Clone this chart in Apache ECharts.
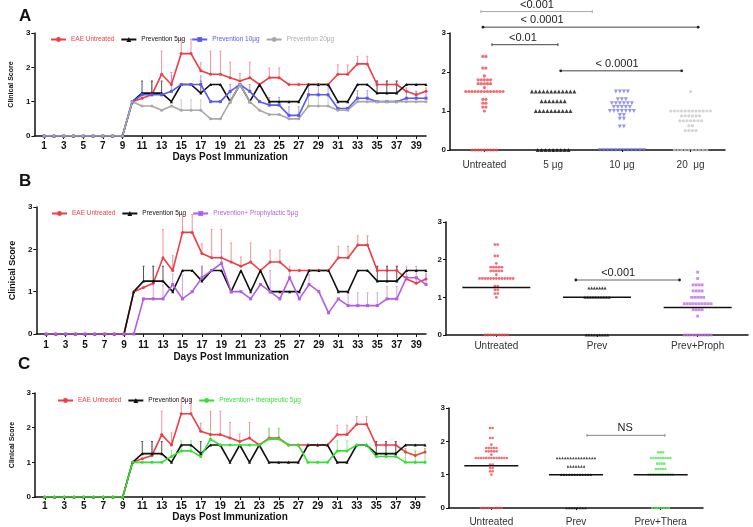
<!DOCTYPE html>
<html><head><meta charset="utf-8">
<script src="https://cdn.jsdelivr.net/npm/echarts@6/dist/echarts.min.js"></script>
<style>html,body{margin:0;padding:0;background:#fff}#c{width:753px;height:527px}</style>
</head><body><div id="c"></div>
<script>
// ---------------- DATA ----------------
const days = ['0','1','2','3','4','5','6','7','8','9','10','11','12','13','14','15','16','17','18','19','20',
  '21','22','23','24','25','26','27','28','29','30','31','32','33','34','35','36','37','38','39','40'];

// mean clinical score, days 1..40
const eaeUntreated = [0,0,0,0,0,0,0,0,0,1.0,1.1,1.2,1.8,1.5,2.4,2.4,1.9,1.8,1.8,1.7,1.6,1.7,1.5,1.7,1.7,1.5,1.5,1.5,1.5,1.5,1.8,1.8,2.1,2.1,1.5,1.5,1.5,1.3,1.2,1.3];
const eaeUntreatedErr = [0,0,0,0,0,0,0,0,0,0,0,0.4,0.67,0.35,0.42,0.42,0.23,0.67,0.67,0.45,0.22,0.45,0,0.28,0.28,0,0,0,0,0,0.27,0.27,0.22,0.22,0.1,0.1,0.1,0.1,0.1,0.1];
const prevention5 = [0,0,0,0,0,0,0,0,0,1.0,1.25,1.25,1.25,1.0,1.5,1.5,1.25,1.5,1.5,1.0,1.5,1.0,1.5,1.0,1.0,1.0,1.0,1.5,1.5,1.5,1.0,1.0,1.5,1.5,1.25,1.25,1.25,1.5,1.5,1.5];
const prevention5Err = [0,0,0,0,0,0,0,0,0,0,0.35,0.35,0.35,0,0,0,0.35,0,0,0,0,0,0,0,0,0,0,0,0,0,0,0,0,0,0.35,0.35,0.35,0,0,0];
const prevention10 = [0,0,0,0,0,0,0,0,0,1.0,1.2,1.2,1.2,1.3,1.5,1.5,1.5,1.0,1.0,1.3,1.5,1.3,1.0,0.9,0.9,0.6,0.6,1.2,1.2,1.2,0.8,0.8,1.1,1.1,1.0,1.0,1.0,1.1,1.1,1.1];
const prevention10Err = [0,0,0,0,0,0,0,0,0,0,0.25,0,0,0.45,0,0,0.25,0,0,0.2,0,0.2,0,0.22,0.22,0.25,0.25,0.3,0.3,0.3,0,0,0.22,0.22,0,0,0,0.2,0.2,0.2];
const prevention20 = [0,0,0,0,0,0,0,0,0,1.0,0.875,0.875,0.75,0.875,0.75,0.75,0.75,0.5,0.5,1.0,1.5,1.0,0.75,0.625,0.625,0.5,0.5,0.875,0.875,0.875,0.75,0.75,1.0,1.0,1.0,1.0,1.0,1.0,1.0,1.0];
const prevention20Err = [0,0,0,0,0,0,0,0,0,0,0,0,0,0,0.3,0.3,0.3,0,0,0.3,0,0,0,0,0,0,0,0.3,0.3,0.3,0,0,0,0,0,0,0,0,0,0];
const prophylactic5 = [0,0,0,0,0,0,0,0,0,0,0.83,0.83,0.83,1.17,0.83,1.0,1.33,1.5,1.67,1.0,1.0,0.83,1.17,1.0,0.83,1.33,0.83,1.17,1.0,0.5,0.83,0.67,0.67,0.67,0.67,0.83,0.83,1.33,1.33,1.17];
const prophylactic5Err = [0,0,0,0,0,0,0,0,0,0,0,0.35,0.33,0.25,0.56,0,0.27,0,0.28,0,0,0,0,0.5,0,0.27,0,0.23,0,0,0,0.3,0.3,0.3,0.3,0.29,0.29,0.27,0.27,0.27];
const therapeutic5 = [0,0,0,0,0,0,0,0,0,1.0,1.0,1.0,1.0,1.17,1.33,1.33,1.17,1.67,1.5,1.5,1.5,1.5,1.5,1.67,1.67,1.5,1.5,1.0,1.0,1.0,1.33,1.33,1.5,1.5,1.17,1.17,1.17,1.0,1.0,1.0];
const therapeutic5Err = [0,0,0,0,0,0,0,0,0,0,0,0,0,0.18,0.29,0.29,0,0.28,0,0,0,0,0,0.3,0.3,0,0,0,0,0,0.29,0.29,0,0,0,0,0,0.35,0.35,0.35];

// individual scores (dot plots)
const groupsA = ['Untreated','5 μg','10 μg','20  μg'];
const groupsB = ['Untreated','Prev','Prev+Proph'];
const groupsC = ['Untreated','Prev','Prev+Thera'];
const scoresUntreated = [2.4,2.4,2.1,2.1,1.9,1.8,1.8,1.8,1.8,1.8,1.7,1.7,1.7,1.7,1.7,1.6,
  1.5,1.5,1.5,1.5,1.5,1.5,1.5,1.5,1.5,1.5,1.5,1.5,1.5,1.3,1.3,1.2,1.2,1.1,1.1,1.0,0,0,0,0,0,0,0,0,0];
const scores5A = [1.5,1.5,1.5,1.5,1.5,1.5,1.5,1.5,1.5,1.5,1.5,1.5,1.25,1.25,1.25,1.25,1.25,1.25,1.25,
  1.0,1.0,1.0,1.0,1.0,1.0,1.0,1.0,1.0,1.0,0,0,0,0,0,0,0,0,0];
const scores10A = [1.5,1.5,1.5,1.5,1.3,1.3,1.3,1.2,1.2,1.2,1.2,1.2,1.2,1.1,1.1,1.1,1.1,1.1,
  1.0,1.0,1.0,1.0,1.0,1.0,1.0,0.9,0.9,0.8,0.8,0.6,0.6,0,0,0,0,0,0,0,0,0,0,0,0];
const scores20A = [1.5,1.0,1.0,1.0,1.0,1.0,1.0,1.0,1.0,1.0,1.0,1.0,1.0,0.875,0.875,0.875,0.875,0.875,0.875,
  0.75,0.75,0.75,0.75,0.75,0.75,0.75,0.625,0.625,0.5,0.5,0.5,0.5,0,0,0,0,0,0,0,0,0,0];
const scoresPrevB = [1.25,1.25,1.25,1.25,1.25,1.25,1.25,1.0,1.0,1.0,1.0,1.0,1.0,1.0,1.0,1.0,1.0,0,0,0,0,0,0,0,0,0];
const scoresProphB = [1.67,1.5,1.33,1.33,1.33,1.33,1.17,1.17,1.17,1.17,1.0,1.0,1.0,1.0,1.0,
  0.83,0.83,0.83,0.83,0.83,0.83,0.83,0.83,0.83,0.83,0.67,0.67,0.67,0.67,0.5,0,0,0,0,0,0,0,0,0,0];
const scoresPrevC = [1.5,1.5,1.5,1.5,1.5,1.5,1.5,1.5,1.5,1.5,1.5,1.5,1.5,1.5,1.5,1.25,1.25,1.25,1.25,1.25,1.25,1.25,
  1.0,1.0,1.0,1.0,1.0,1.0,1.0,1.0,1.0,1.0,1.0,1.0,0,0,0,0,0,0,0,0];
const scoresTheraC = [1.67,1.67,1.67,1.5,1.5,1.5,1.5,1.5,1.5,1.5,1.5,1.5,1.33,1.33,1.33,1.33,1.17,1.17,1.17,1.17,1.17,
  1.0,1.0,1.0,1.0,1.0,1.0,1.0,1.0,1.0,1.0,1.0,0,0,0,0,0,0,0,0];
const meanB = [1.26, 1.0, 0.73];
const meanC = [1.27, 1.0, 1.0];

// significance brackets (group-axis units, score level)
const sigA_text = ['<0.001','< 0.0001','<0.01','< 0.0001'];
const sigA_from = [0.45, 0.48, 0.61, 1.61];
const sigA_to = [2.07, 3.61, 1.57, 3.37];
const sigA_level = [3.55, 3.15, 2.7, 2.03];
const sigA_textAt = [1.265, 1.34, 1.06, 2.43];
const sigB_text = ['<0.001'];
const sigB_from = [1.29];
const sigB_to = [2.32];
const sigB_level = [1.46];
const sigB_textAt = [1.71];
const sigC_text = ['NS'];
const sigC_from = [1.63];
const sigC_to = [2.55];
const sigC_level = [2.18];
const sigC_textAt = [2.08];

// ---------------- STYLE / LAYOUT ----------------
const FONT = '"Liberation Sans", Arial, Helvetica, sans-serif';
const C = {
  red:'#ee3d45', redErr:'#f29498', black:'#111111', blackErr:'#555555',
  blue:'#5a5af0', blueErr:'#a0a0f5', grey:'#a8a8a8', greyErr:'#c8c8c8',
  purple:'#b35ee0', purpleErr:'#d3a2ef', green:'#35e035', greenErr:'#86ef86'
};
const lineGrids = [
  {left:30, top:33, width:396, height:103},
  {left:28, top:207, width:398, height:127},
  {left:35, top:393, width:390, height:104}];
const dotGrids = [
  {left:450, top:33, width:275, height:117},
  {left:446, top:222, width:302, height:113},
  {left:449, top:408, width:254, height:100}];

const chart = echarts.init(document.getElementById('c'));

const xAxes = [], yAxes = [], series = [];
const lineCfg = [
  {labelMargin:5, nameGap:15, yNameGap:15, yNameSize:7},
  {labelMargin:6, nameGap:18, yNameGap:13, yNameSize:9},
  {labelMargin:4, nameGap:14, yNameGap:14, yNameSize:7}];
lineCfg.forEach((cfg, g) => {
  xAxes.push({type:'category', gridIndex:g, data:days, boundaryGap:false,
    axisLine:{lineStyle:{color:'#111', width:1.5}},
    axisTick:{interval:(i)=> i%2===1, length:3, lineStyle:{color:'#111', width:1}},
    axisLabel:{interval:(i)=> i%2===1, fontSize:10, fontWeight:'bold', color:'#111', margin:cfg.labelMargin, fontFamily:FONT},
    name:'Days Post Immunization', nameLocation:'middle', nameGap:cfg.nameGap,
    nameTextStyle:{fontSize:10, fontWeight:'bold', color:'#111', fontFamily:FONT}, splitLine:{show:false}});
  yAxes.push({type:'value', gridIndex:g, min:0, max:3, interval:1,
    axisLine:{show:true, lineStyle:{color:'#111', width:1.5}},
    axisTick:{show:true, length:3, lineStyle:{color:'#111'}},
    axisLabel:{fontSize:8, fontWeight:'bold', color:'#111', margin:4, fontFamily:FONT},
    splitLine:{show:false},
    name:'Clinical Score', nameLocation:'middle', nameGap:cfg.yNameGap, nameRotate:90,
    nameTextStyle:{fontSize:cfg.yNameSize, fontWeight:'bold', color:'#111', fontFamily:FONT}});
});
const dotCfg = [{groups:groupsA, margin:10}, {groups:groupsB, margin:6}, {groups:groupsC, margin:9}];
dotCfg.forEach((cfg, k) => {
  const g = 3 + k;
  xAxes.push({type:'category', gridIndex:g, data:cfg.groups, boundaryGap:true,
    axisLine:{lineStyle:{color:'#111', width:1.5}},
    axisTick:{show:true, alignWithLabel:true, length:2, lineStyle:{color:'#111'}},
    axisLabel:{fontSize:10, color:'#333', margin:cfg.margin, fontFamily:FONT}});
  xAxes.push({type:'value', gridIndex:g, min:0, max:cfg.groups.length, show:false});
  yAxes.push({type:'value', gridIndex:g, min:0, max:3, interval:1,
    axisLine:{show:true, lineStyle:{color:'#111', width:1.5}},
    axisTick:{show:true, length:3, lineStyle:{color:'#111'}},
    axisLabel:{fontSize:8, fontWeight:'bold', color:'#111', margin:4, fontFamily:FONT},
    splitLine:{show:false}});
});

function errSeries(panel, means, errs, color) {
  const data = [];
  means.forEach((m, i) => { if (errs[i] > 0) data.push([i + 1, m, errs[i]]); });
  return {type:'custom', xAxisIndex:panel, yAxisIndex:panel, z:1, silent:true, data,
    renderItem(params, api) {
      const x = api.value(0), m = api.value(1), e = api.value(2);
      const p0 = api.coord([x, m]), p1 = api.coord([x, m + e]);
      return {type:'group', children:[
        {type:'line', shape:{x1:p0[0], y1:p0[1], x2:p1[0], y2:p1[1]}, style:{stroke:color, lineWidth:1}},
        {type:'line', shape:{x1:p1[0]-1, y1:p1[1], x2:p1[0]+1, y2:p1[1]}, style:{stroke:color, lineWidth:1}}]};
    }};
}
function lineSeries(panel, name, vals, color, symbol) {
  return {type:'line', name, xAxisIndex:panel, yAxisIndex:panel, z:3,
    data: vals.map((v, i) => [i + 1, v]),
    symbol, symbolSize:3, showSymbol:true,
    lineStyle:{color, width:1.6}, itemStyle:{color}};
}
const panels = [
  [['EAE Untreated', eaeUntreated, eaeUntreatedErr, C.red, C.redErr, 'circle'],
   ['Prevention 5μg', prevention5, prevention5Err, C.black, C.blackErr, 'triangle'],
   ['Prevention 10μg', prevention10, prevention10Err, C.blue, C.blueErr, 'rect'],
   ['Prevention 20μg', prevention20, prevention20Err, C.grey, C.greyErr, 'circle']],
  [['EAE Untreated', eaeUntreated, eaeUntreatedErr, C.red, C.redErr, 'circle'],
   ['Prevention 5μg', prevention5, prevention5Err, C.black, C.blackErr, 'triangle'],
   ['Prevention+ Prophylactic 5μg', prophylactic5, prophylactic5Err, C.purple, C.purpleErr, 'rect']],
  [['EAE Untreated', eaeUntreated, eaeUntreatedErr, C.red, C.redErr, 'circle'],
   ['Prevention 5μg', prevention5, prevention5Err, C.black, C.blackErr, 'triangle'],
   ['Prevention+ therapeutic 5μg', therapeutic5, therapeutic5Err, C.green, C.greenErr, 'circle']]];
panels.forEach((list, p) => {
  list.forEach(s => series.push(errSeries(p, s[1], s[2], s[4])));
  list.forEach(s => series.push(lineSeries(p, s[0], s[1], s[3], s[5])));
});

// dot plots
function swarm(scores, groupIndex, spacingPx, gridW, nGroups) {
  const unit = spacingPx / (gridW / nGroups);
  const counts = new Map();
  scores.forEach(v => counts.set(v, (counts.get(v) || 0) + 1));
  const pts = [];
  counts.forEach((n, v) => {
    for (let k = 0; k < n; k++) pts.push([groupIndex + 0.5 + (k - (n - 1) / 2) * unit, v]);
  });
  return pts;
}
function dotSeries(k, scores, gi, color, symbol, size, spacing, rotate) {
  const grid = dotGrids[k], n = dotCfg[k].groups.length;
  return {type:'scatter', xAxisIndex:4 + 2*k, yAxisIndex:3 + k, z:3, silent:true,
    data: swarm(scores, gi, spacing, grid.width, n), symbol, symbolSize:size, symbolRotate:rotate || 0,
    itemStyle:{color}};
}
series.push(dotSeries(0, scoresUntreated, 0, '#ef4a50', 'circle', 3.2, 3.1));
series.push(dotSeries(0, scores5A, 1, '#111', 'triangle', 4, 3.85));
series.push(dotSeries(0, scores10A, 2, '#7b7bef', 'triangle', 4, 4.0, 180));
series.push(dotSeries(0, scores20A, 3, '#c9c9c9', 'circle', 3.2, 3.6));
series.push(dotSeries(1, scoresUntreated, 0, '#ef4a50', 'circle', 2.8, 2.8));
series.push(dotSeries(1, scoresPrevB, 1, '#111', 'triangle', 3, 2.7));
series.push(dotSeries(1, scoresProphB, 2, '#c06ee3', 'rect', 2.8, 3.0));
series.push(dotSeries(2, scoresUntreated, 0, '#ef4a50', 'circle', 2.6, 2.6));
series.push(dotSeries(2, scoresPrevC, 1, '#111', 'triangle', 2.6, 2.7));
series.push(dotSeries(2, scoresTheraC, 2, '#55e655', 'circle', 2.6, 2.4));

function meanSeries(k, means, halfPx) {
  return {type:'custom', xAxisIndex:4 + 2*k, yAxisIndex:3 + k, z:4, silent:true,
    data: means.map((m, i) => [i + 0.5, m]),
    renderItem(params, api) {
      const p = api.coord([api.value(0), api.value(1)]);
      return {type:'line', shape:{x1:p[0]-halfPx, y1:p[1], x2:p[0]+halfPx, y2:p[1]}, style:{stroke:'#111', lineWidth:1.5}};
    }};
}
series.push(meanSeries(1, meanB, 34));
series.push(meanSeries(2, meanC, 27));

function sigSeries(k, texts, from, to, level, textAt, ends, colors) {
  return {type:'custom', xAxisIndex:4 + 2*k, yAxisIndex:3 + k, z:5, silent:true, clip:false,
    data: from.map((f, i) => [f, level[i], to[i], textAt[i]]),
    renderItem(params, api) {
      const i = params.dataIndex;
      const a = api.coord([api.value(0), api.value(1)]);
      const b = api.coord([api.value(2), api.value(1)]);
      const t = api.coord([api.value(3), api.value(1)]);
      const col = colors[i];
      const ch = [{type:'line', shape:{x1:a[0], y1:a[1], x2:b[0], y2:b[1]}, style:{stroke:col, lineWidth:1}}];
      [a, b].forEach(p => {
        if (ends[i] === 'dot') ch.push({type:'circle', shape:{cx:p[0], cy:p[1], r:1.4}, style:{fill:'#222'}});
        else ch.push({type:'line', shape:{x1:p[0], y1:p[1]-1.5, x2:p[0], y2:p[1]+1.5}, style:{stroke:col, lineWidth:1}});
      });
      ch.push({type:'text', x:t[0], y:t[1]-1.5, style:{text:texts[i], fill:'#222', font:'11px ' + FONT, align:'center', verticalAlign:'bottom'}});
      return {type:'group', children:ch};
    }};
}
series.push(sigSeries(0, sigA_text, sigA_from, sigA_to, sigA_level, sigA_textAt, ['tick','dot','tick','dot'], ['#aaaaaa','#444','#444','#444']));
series.push(sigSeries(1, sigB_text, sigB_from, sigB_to, sigB_level, sigB_textAt, ['dot'], ['#666']));
series.push(sigSeries(2, sigC_text, sigC_from, sigC_to, sigC_level, sigC_textAt, ['tick'], ['#888']));

function legendFor(left, top, items) {
  return {left, top, orient:'horizontal', itemWidth:15, itemHeight:6, itemGap:6, selectedMode:false,
    textStyle:{fontSize:6.5, fontFamily:FONT},
    data: items.map(it => ({name:it[0], textStyle:{color:it[1], fontSize:6.5}}))};
}

const option = {
  animation:false,
  backgroundColor:'#fff',
  title:[
    {text:'A', left:14, top:3, textStyle:{fontSize:17, fontWeight:'bold', color:'#111', fontFamily:FONT}},
    {text:'B', left:14, top:168, textStyle:{fontSize:17, fontWeight:'bold', color:'#111', fontFamily:FONT}},
    {text:'C', left:13, top:351, textStyle:{fontSize:17, fontWeight:'bold', color:'#111', fontFamily:FONT}}],
  legend:[
    legendFor(45, 31, [['EAE Untreated', C.red], ['Prevention 5μg', '#111'], ['Prevention 10μg', C.blue], ['Prevention 20μg', '#aaaaaa']]),
    legendFor(46, 205, [['EAE Untreated', C.red], ['Prevention 5μg', '#111'], ['Prevention+ Prophylactic 5μg', C.purple]]),
    legendFor(52, 392, [['EAE Untreated', C.red], ['Prevention 5μg', '#111'], ['Prevention+ therapeutic 5μg', C.green]])],
  grid: lineGrids.concat(dotGrids).map(g => Object.assign({containLabel:false}, g)),
  xAxis: xAxes,
  yAxis: yAxes,
  series
};
chart.setOption(option);
</script>
</body></html>
